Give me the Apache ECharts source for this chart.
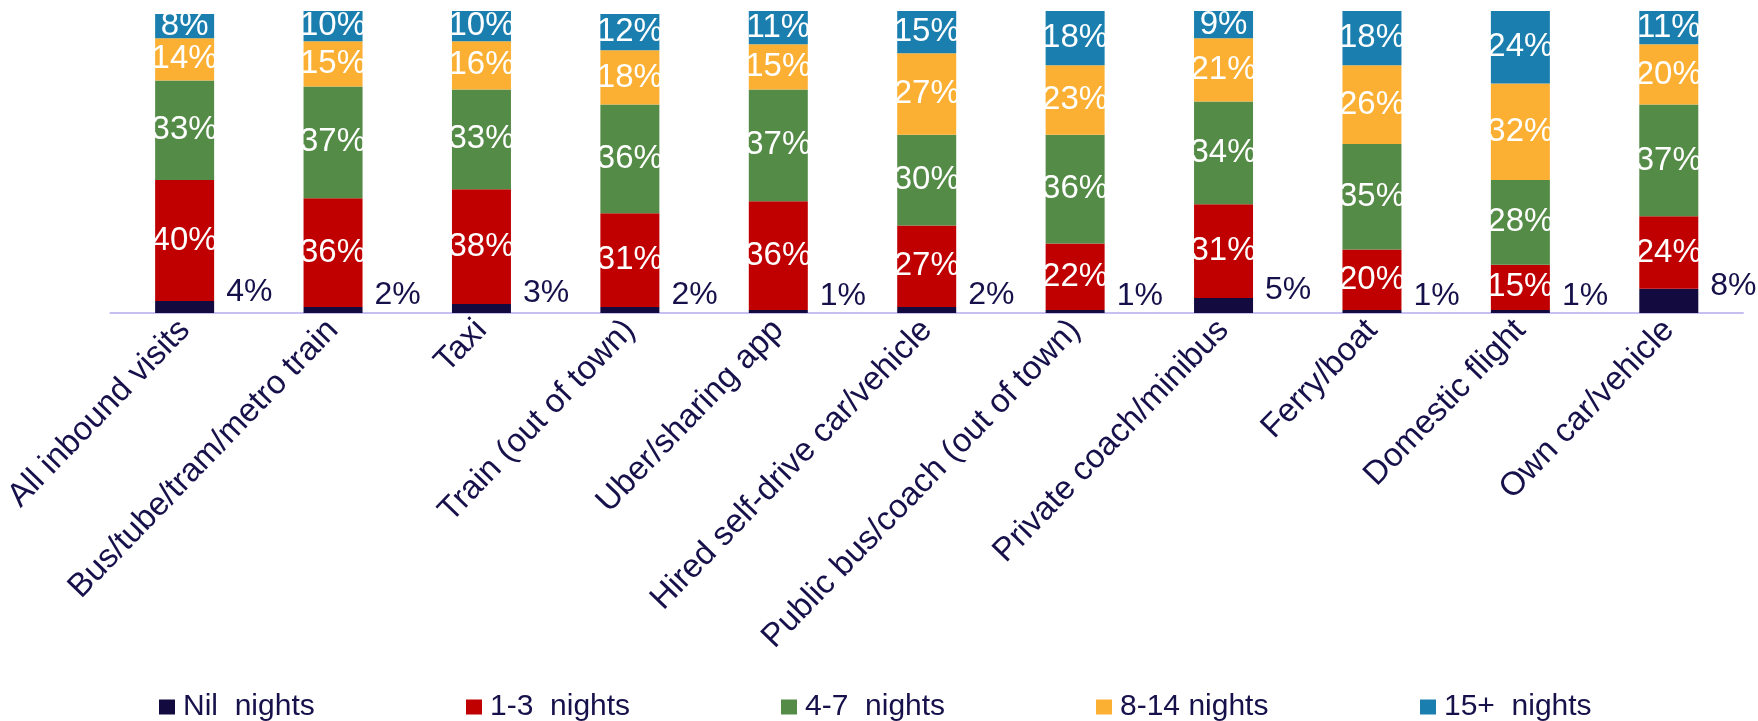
<!DOCTYPE html>
<html>
<head>
<meta charset="utf-8">
<script src="https://cdn.jsdelivr.net/npm/echarts@6/dist/echarts.min.js"></script>
<style>
html,body{margin:0;padding:0;background:#fff;}
#chart{width:1758px;height:721px;}
</style>
</head>
<body>
<div id="chart"></div>
<script>
const categories = ["All inbound visits","Bus/tube/tram/metro train","Taxi","Train (out of town)","Uber/sharing app","Hired self-drive car/vehicle","Public bus/coach (out of town)","Private coach/minibus","Ferry/boat","Domestic flight","Own car/vehicle"];
const seriesNames = ["Nil  nights","1-3  nights","4-7  nights","8-14 nights","15+  nights"];
const nil = [4,2,3,2,1,2,1,5,1,1,8];
const n1to3 = [40,36,38,31,36,27,22,31,20,15,24];
const n4to7 = [33,37,33,36,37,30,36,34,35,28,37];
const n8to14 = [14,15,16,18,15,27,23,21,26,32,20];
const n15plus = [8,10,10,12,11,15,18,9,18,24,11];

const colors = ["#130b40","#c00000","#548b46","#fbb034","#1a7fae"];
const textColor = "#16114a";
const font = "Liberation Sans, Arial, sans-serif";
const legendLefts = [154, 461, 776, 1091, 1415];

function mk(name, data, color, isNil) {
  return {
    name: name,
    type: 'bar',
    stack: 'total',
    data: data,
    barWidth: 59,
    itemStyle: {color: color},
    label: isNil ? {
      show: true, position: 'right', distance: 12, offset: [0, -15],
      color: textColor, fontSize: 32, fontFamily: font,
      formatter: p => p.value + '%'
    } : {
      show: true, position: 'inside',
      color: '#ffffff', fontSize: 33, fontFamily: font,
      formatter: p => p.value + '%'
    }
  };
}

const chart = echarts.init(document.getElementById('chart'));
chart.setOption({
  animation: false,
  grid: {left: 109, right: 15, top: 11, bottom: 408},
  legend: seriesNames.map((n, i) => ({
    left: legendLefts[i], top: 687,
    itemWidth: 16, itemHeight: 15, itemGap: 0,
    icon: 'rect',
    textStyle: {color: textColor, fontSize: 30, fontFamily: font, padding: [0, 0, 0, 3]},
    data: [n]
  })),
  xAxis: {
    type: 'category',
    data: categories,
    axisLine: {show: true, lineStyle: {color: '#c6bff0', width: 2}},
    axisTick: {show: false},
    axisLabel: {rotate: 46, interval: 0, margin: 12, color: textColor, fontSize: 33, fontFamily: font}
  },
  yAxis: {type: 'value', min: 0, max: 100, show: false, splitLine: {show: false}},
  series: [
    mk(seriesNames[0], nil, colors[0], true),
    mk(seriesNames[1], n1to3, colors[1], false),
    mk(seriesNames[2], n4to7, colors[2], false),
    mk(seriesNames[3], n8to14, colors[3], false),
    mk(seriesNames[4], n15plus, colors[4], false)
  ]
});
</script>
</body>
</html>
